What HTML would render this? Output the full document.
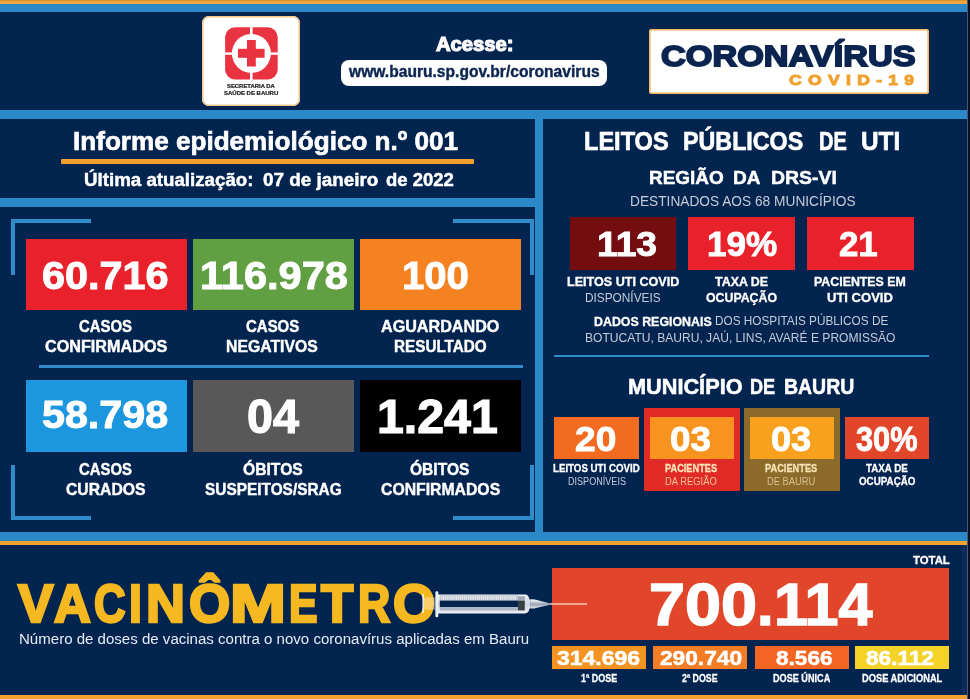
<!DOCTYPE html><html lang="pt-BR"><head><meta charset="utf-8"><title>Informe epidemiológico - Coronavírus Bauru</title>
<style>html,body{margin:0;padding:0}body{width:970px;height:699px;overflow:hidden;background:#03244f;position:relative;font-family:"Liberation Sans",sans-serif}
.r{position:absolute}.t{position:absolute;white-space:pre;line-height:1;transform-origin:0 0;margin:0}
#w{position:absolute;left:0;top:0;width:970px;height:699px;filter:blur(0.5px)}
</style></head><body><div id="w">
<div class="r" style="left:-6px;top:-6px;width:982px;height:10px;background:#f0a640;"></div>
<div class="r" style="left:-6px;top:-6px;width:982px;height:7px;background:#dc8e28;"></div>
<div class="r" style="left:-6px;top:4px;width:982px;height:8px;background:#2a89c6;"></div>
<div class="r" style="left:-6px;top:110.4px;width:982px;height:8.8px;background:#2a89c6;"></div>
<div class="r" style="left:-6px;top:197.5px;width:549px;height:9px;background:#2a89c6;"></div>
<div class="r" style="left:535px;top:110px;width:8px;height:430px;background:#2a89c6;"></div>
<div class="r" style="left:-6px;top:531.5px;width:982px;height:9.5px;background:#2a89c6;"></div>
<div class="r" style="left:-6px;top:541px;width:982px;height:4px;background:#f0a12e;"></div>
<div class="r" style="left:-6px;top:694.5px;width:982px;height:10.5px;background:#f0a12e;"></div>
<div class="r" style="left:961.5px;top:545px;width:5.5px;height:149.5px;background:#0b2a5a;"></div>
<div class="r" style="left:967px;top:-6px;width:9px;height:711px;background:#0a0f24;"></div>
<div class="r" style="left:966.6px;top:-6px;width:1px;height:711px;background:#4a5878;"></div>
<div class="r" style="left:11px;top:218.5px;width:80px;height:4px;background:#2f8bc9;"></div>
<div class="r" style="left:11px;top:218.5px;width:4px;height:56px;background:#2f8bc9;"></div>
<div class="r" style="left:453px;top:218.5px;width:80.5px;height:4px;background:#2f8bc9;"></div>
<div class="r" style="left:529.5px;top:218.5px;width:4px;height:56px;background:#2f8bc9;"></div>
<div class="r" style="left:11px;top:516px;width:80px;height:4px;background:#2f8bc9;"></div>
<div class="r" style="left:11px;top:464.5px;width:4px;height:55.5px;background:#2f8bc9;"></div>
<div class="r" style="left:453px;top:516px;width:80.5px;height:4px;background:#2f8bc9;"></div>
<div class="r" style="left:529.5px;top:464.5px;width:4px;height:55.5px;background:#2f8bc9;"></div>
<div class="r" style="left:38.5px;top:365px;width:484.5px;height:2.5px;background:#2f8bc9;"></div>
<div class="r" style="left:554.2px;top:354.8px;width:374.8px;height:2.7px;background:#2f8bc9;"></div>
<div class="r" style="left:26px;top:239.3px;width:160.5px;height:71.2px;background:#e8212b;"></div>
<div class="r" style="left:193px;top:239.3px;width:160.7px;height:71.2px;background:#609f42;"></div>
<div class="r" style="left:359.5px;top:239.3px;width:161px;height:71.2px;background:#f58220;"></div>
<div class="r" style="left:26px;top:379.5px;width:160.5px;height:72px;background:#1c97df;"></div>
<div class="r" style="left:193px;top:379.5px;width:160.7px;height:72px;background:#585858;"></div>
<div class="r" style="left:359.5px;top:379.5px;width:161px;height:72px;background:#000000;"></div>
<div class="r" style="left:570px;top:216.8px;width:106px;height:53.3px;background:#730d10;"></div>
<div class="r" style="left:688px;top:216.8px;width:107px;height:53.3px;background:#e9212b;"></div>
<div class="r" style="left:807px;top:216.8px;width:106.6px;height:53.3px;background:#e9212b;"></div>
<div class="r" style="left:554.2px;top:417.2px;width:84.5px;height:42px;background:#f26b21;"></div>
<div class="r" style="left:644.3px;top:407.7px;width:95.9px;height:83.7px;background:#e02a26;"></div>
<div class="r" style="left:649.5px;top:417.2px;width:84.2px;height:42px;background:#f7931e;"></div>
<div class="r" style="left:744.4px;top:407.7px;width:95.6px;height:83.7px;background:#8b6a2a;"></div>
<div class="r" style="left:749.5px;top:417.2px;width:84px;height:42px;background:#f8a11f;"></div>
<div class="r" style="left:844.8px;top:417.2px;width:84px;height:42px;background:#e1452a;"></div>
<div class="r" style="left:552px;top:568px;width:397.2px;height:71.6px;background:#e1452a;"></div>
<div class="r" style="left:552px;top:645.8px;width:93.8px;height:23.4px;background:#f39322;"></div>
<div class="r" style="left:653.1px;top:645.8px;width:94.4px;height:23.4px;background:#f27d25;"></div>
<div class="r" style="left:754.6px;top:645.8px;width:94.4px;height:23.4px;background:#f26522;"></div>
<div class="r" style="left:854.7px;top:645.8px;width:94.5px;height:23.4px;background:#f4d228;"></div>
<div class="r" style="left:202px;top:16.3px;width:97.5px;height:89.7px;background:#ffffff;border-radius:7px;box-shadow:inset 0 0 0 1.5px #f3c98a;"></div>
<div class="r" style="left:340.5px;top:59.6px;width:266.5px;height:26.4px;background:#ffffff;border-radius:8px;"></div>
<div class="r" style="left:648.7px;top:29.3px;width:280.5px;height:64.9px;background:#ffffff;border-radius:3px;box-shadow:inset 0 0 0 1.6px #f2b55c;"></div>
<div class="r" style="left:60.6px;top:159.2px;width:413.6px;height:4.6px;background:#f0a12e;border-radius:1px"></div>
<svg class="r" style="left:0;top:0" width="970" height="699" viewBox="0 0 970 699">
<defs>
<linearGradient id="hub" x1="0" y1="0" x2="0" y2="1"><stop offset="0" stop-color="#ffffff"/><stop offset="0.5" stop-color="#aeb7c4"/><stop offset="1" stop-color="#e6eaf0"/></linearGradient>
</defs>
<!-- logo icon -->
<g>
<rect x="225.1" y="27.3" width="52.6" height="52.2" rx="10" ry="10" fill="#ea3340"/>
<rect x="250" y="26" width="2.6" height="55" fill="#fff"/>
<rect x="224" y="52.4" width="55" height="2.4" fill="#fff"/>
<circle cx="251.4" cy="53.4" r="19.5" fill="#fff"/>
<rect x="238" y="48.8" width="26.6" height="9" fill="#ea3340"/>
<rect x="247" y="40" width="8.8" height="26.5" fill="#ea3340"/>
</g>
</svg>

<div class="t" style="font-size:4.94px;font-weight:bold;color:#222;-webkit-text-stroke:0.2px #222;left:226.62px;top:84.80px;transform:scaleX(1.1941);">SECRETARIA DA</div>
<div class="t" style="font-size:5.23px;font-weight:bold;color:#222;-webkit-text-stroke:0.2px #222;left:223.51px;top:90.90px;transform:scaleX(1.1469);">SAÚDE DE BAURU</div>
<div class="t" style="font-size:20.64px;font-weight:bold;color:#fff;-webkit-text-stroke:1.2px #fff;left:436.09px;top:34.40px;transform:scaleX(0.9803);">Acesse:</div>
<div class="t" style="font-size:16.12px;font-weight:bold;color:#0b2550;-webkit-text-stroke:0.41px #0b2550;left:349.17px;top:63.30px;transform:scaleX(0.9687);">www.bauru.sp.gov.br/coronavirus</div>
<div class="t" style="font-size:30.23px;font-weight:bold;color:#0b2550;-webkit-text-stroke:1.8px #0b2550;left:661.19px;top:41.00px;transform:scaleX(1.1341);">CORONAVÍRUS</div>
<div class="t" style="font-size:15.26px;font-weight:bold;color:#f0a12e;-webkit-text-stroke:1px #f0a12e;letter-spacing:5.493px;left:789.18px;top:72.20px;transform:scaleX(1.1500);">COVID-19</div>
<div class="t" style="font-size:26.63px;font-weight:bold;color:#fff;-webkit-text-stroke:0.68px #fff;left:72.95px;top:128.16px;transform:scaleX(0.9802);">Informe epidemiológico n.º 001</div>
<div class="t" style="font-size:18.49px;font-weight:bold;color:#fff;-webkit-text-stroke:0.48px #fff;left:84.23px;top:171.26px;transform:scaleX(1.0123);">Última atualização:</div>
<div class="t" style="font-size:18.49px;font-weight:bold;color:#fff;-webkit-text-stroke:0.48px #fff;left:262.74px;top:171.26px;transform:scaleX(1.0203);">07 de janeiro</div>
<div class="t" style="font-size:18.49px;font-weight:bold;color:#fff;-webkit-text-stroke:0.48px #fff;left:386.14px;top:171.26px;transform:scaleX(1.0011);">de 2022</div>
<div class="t" style="font-size:38.95px;font-weight:bold;color:#fff;-webkit-text-stroke:1px #fff;left:42.37px;top:256.80px;transform:scaleX(1.0630);">60.716</div>
<div class="t" style="font-size:38.95px;font-weight:bold;color:#fff;-webkit-text-stroke:1px #fff;left:199.60px;top:256.80px;transform:scaleX(1.0676);">116.978</div>
<div class="t" style="font-size:38.95px;font-weight:bold;color:#fff;-webkit-text-stroke:1px #fff;left:402.46px;top:256.80px;transform:scaleX(1.0298);">100</div>
<div class="t" style="font-size:17.24px;font-weight:bold;color:#fff;-webkit-text-stroke:0.44px #fff;left:78.89px;top:318.28px;transform:scaleX(0.8639);">CASOS</div>
<div class="t" style="font-size:17.37px;font-weight:bold;color:#fff;-webkit-text-stroke:0.45px #fff;left:44.51px;top:338.47px;transform:scaleX(0.9326);">CONFIRMADOS</div>
<div class="t" style="font-size:17.24px;font-weight:bold;color:#fff;-webkit-text-stroke:0.44px #fff;left:246.19px;top:318.28px;transform:scaleX(0.8688);">CASOS</div>
<div class="t" style="font-size:17.37px;font-weight:bold;color:#fff;-webkit-text-stroke:0.45px #fff;left:226.30px;top:338.47px;transform:scaleX(0.9086);">NEGATIVOS</div>
<div class="t" style="font-size:17.24px;font-weight:bold;color:#fff;-webkit-text-stroke:0.44px #fff;left:380.71px;top:318.28px;transform:scaleX(0.9366);">AGUARDANDO</div>
<div class="t" style="font-size:17.37px;font-weight:bold;color:#fff;-webkit-text-stroke:0.45px #fff;left:393.62px;top:338.47px;transform:scaleX(0.8795);">RESULTADO</div>
<div class="t" style="font-size:39.1px;font-weight:bold;color:#fff;-webkit-text-stroke:1px #fff;left:42.37px;top:395.40px;transform:scaleX(1.0548);">58.798</div>
<div class="t" style="font-size:47.65px;font-weight:bold;color:#fff;-webkit-text-stroke:1.22px #fff;left:246.62px;top:393.29px;transform:scaleX(0.9792);">04</div>
<div class="t" style="font-size:47.65px;font-weight:bold;color:#fff;-webkit-text-stroke:1.22px #fff;left:377.08px;top:393.29px;transform:scaleX(1.0133);">1.241</div>
<div class="t" style="font-size:17.09px;font-weight:bold;color:#fff;-webkit-text-stroke:0.44px #fff;left:78.89px;top:461.08px;transform:scaleX(0.8703);">CASOS</div>
<div class="t" style="font-size:17.24px;font-weight:bold;color:#fff;-webkit-text-stroke:0.44px #fff;left:66.00px;top:480.98px;transform:scaleX(0.9130);">CURADOS</div>
<div class="t" style="font-size:17.09px;font-weight:bold;color:#fff;-webkit-text-stroke:0.44px #fff;left:243.20px;top:461.08px;transform:scaleX(0.9170);">ÓBITOS</div>
<div class="t" style="font-size:17.24px;font-weight:bold;color:#fff;-webkit-text-stroke:0.44px #fff;left:204.50px;top:480.98px;transform:scaleX(0.8938);">SUSPEITOS/SRAG</div>
<div class="t" style="font-size:17.09px;font-weight:bold;color:#fff;-webkit-text-stroke:0.44px #fff;left:410.40px;top:461.08px;transform:scaleX(0.9109);">ÓBITOS</div>
<div class="t" style="font-size:17.24px;font-weight:bold;color:#fff;-webkit-text-stroke:0.44px #fff;left:380.50px;top:480.98px;transform:scaleX(0.9151);">CONFIRMADOS</div>
<div class="t" style="font-size:26.06px;font-weight:bold;color:#fff;-webkit-text-stroke:0.67px #fff;left:584.10px;top:127.66px;transform:scaleX(0.9043);">LEITOS</div>
<div class="t" style="font-size:26.06px;font-weight:bold;color:#fff;-webkit-text-stroke:0.67px #fff;left:682.81px;top:127.66px;transform:scaleX(0.8933);">PÚBLICOS</div>
<div class="t" style="font-size:26.06px;font-weight:bold;color:#fff;-webkit-text-stroke:0.67px #fff;left:818.79px;top:127.66px;transform:scaleX(0.7666);">DE</div>
<div class="t" style="font-size:26.06px;font-weight:bold;color:#fff;-webkit-text-stroke:0.67px #fff;left:860.58px;top:127.66px;transform:scaleX(0.9334);">UTI</div>
<div class="t" style="font-size:19.06px;font-weight:bold;color:#fff;-webkit-text-stroke:0.49px #fff;left:648.85px;top:168.06px;transform:scaleX(0.9945);">REGIÃO</div>
<div class="t" style="font-size:19.06px;font-weight:bold;color:#fff;-webkit-text-stroke:0.49px #fff;left:733.45px;top:168.06px;transform:scaleX(0.9983);">DA</div>
<div class="t" style="font-size:19.06px;font-weight:bold;color:#fff;-webkit-text-stroke:0.49px #fff;left:770.83px;top:168.06px;transform:scaleX(1.0196);">DRS-VI</div>
<div class="t" style="font-size:14.53px;font-weight:normal;color:#c5ccd9;left:630.26px;top:193.60px;transform:scaleX(0.9448);">DESTINADOS AOS 68 MUNICÍPIOS</div>
<div class="t" style="font-size:34.75px;font-weight:bold;color:#fff;-webkit-text-stroke:0.89px #fff;left:597.03px;top:227.16px;transform:scaleX(1.0709);">113</div>
<div class="t" style="font-size:34.75px;font-weight:bold;color:#fff;-webkit-text-stroke:0.89px #fff;left:706.83px;top:227.16px;transform:scaleX(1.0097);">19%</div>
<div class="t" style="font-size:34.75px;font-weight:bold;color:#fff;-webkit-text-stroke:0.89px #fff;left:839.14px;top:227.16px;transform:scaleX(1.0022);">21</div>
<div class="t" style="font-size:13.17px;font-weight:bold;color:#fff;-webkit-text-stroke:0.34px #fff;left:567.16px;top:275.23px;transform:scaleX(0.9558);">LEITOS UTI COVID</div>
<div class="t" style="font-size:12.94px;font-weight:normal;color:#c5ccd9;left:584.69px;top:292.40px;transform:scaleX(0.9141);">DISPONÍVEIS</div>
<div class="t" style="font-size:13.17px;font-weight:bold;color:#fff;-webkit-text-stroke:0.34px #fff;left:714.96px;top:275.23px;transform:scaleX(0.9436);">TAXA DE</div>
<div class="t" style="font-size:12.47px;font-weight:bold;color:#fff;-webkit-text-stroke:0.32px #fff;left:705.96px;top:292.24px;transform:scaleX(0.9885);">OCUPAÇÃO</div>
<div class="t" style="font-size:13.17px;font-weight:bold;color:#fff;-webkit-text-stroke:0.34px #fff;left:814.16px;top:275.23px;transform:scaleX(0.9400);">PACIENTES EM</div>
<div class="t" style="font-size:12.47px;font-weight:bold;color:#fff;-webkit-text-stroke:0.32px #fff;left:827.07px;top:292.24px;transform:scaleX(1.0449);">UTI COVID</div>
<div class="t" style="font-size:12.47px;font-weight:bold;color:#fff;-webkit-text-stroke:0.32px #fff;left:593.76px;top:315.94px;transform:scaleX(0.9935);">DADOS REGIONAIS</div>
<div class="t" style="font-size:12.94px;font-weight:normal;color:#c5ccd9;left:715.19px;top:315.30px;transform:scaleX(0.9107);">DOS HOSPITAIS PÚBLICOS DE</div>
<div class="t" style="font-size:12.94px;font-weight:normal;color:#c5ccd9;left:585.47px;top:332.30px;transform:scaleX(0.9326);">BOTUCATU, BAURU, JAÚ, LINS, AVARÉ E PROMISSÃO</div>
<div class="t" style="font-size:21.72px;font-weight:bold;color:#fff;-webkit-text-stroke:0.56px #fff;left:628.28px;top:376.02px;transform:scaleX(0.9992);">MUNICÍPIO</div>
<div class="t" style="font-size:21.72px;font-weight:bold;color:#fff;-webkit-text-stroke:0.56px #fff;left:749.60px;top:376.02px;transform:scaleX(0.8343);">DE</div>
<div class="t" style="font-size:21.72px;font-weight:bold;color:#fff;-webkit-text-stroke:0.56px #fff;left:784.35px;top:376.02px;transform:scaleX(0.8965);">BAURU</div>
<div class="t" style="font-size:35.31px;font-weight:bold;color:#fff;-webkit-text-stroke:0.91px #fff;left:575.43px;top:420.75px;transform:scaleX(1.0508);">20</div>
<div class="t" style="font-size:35.31px;font-weight:bold;color:#fff;-webkit-text-stroke:0.91px #fff;left:669.73px;top:420.75px;transform:scaleX(1.0431);">03</div>
<div class="t" style="font-size:35.31px;font-weight:bold;color:#fff;-webkit-text-stroke:0.91px #fff;left:770.94px;top:420.75px;transform:scaleX(1.0249);">03</div>
<div class="t" style="font-size:35.31px;font-weight:bold;color:#fff;-webkit-text-stroke:0.91px #fff;left:856.30px;top:420.75px;transform:scaleX(0.8697);">30%</div>
<div class="t" style="font-size:10.78px;font-weight:bold;color:#fff;-webkit-text-stroke:0.28px #fff;left:553.03px;top:462.86px;transform:scaleX(0.9016);">LEITOS UTI COVID</div>
<div class="t" style="font-size:10.61px;font-weight:normal;color:#c5ccd9;left:567.60px;top:476.00px;transform:scaleX(0.8549);">DISPONÍVEIS</div>
<div class="t" style="font-size:10.78px;font-weight:bold;color:#fde3b5;-webkit-text-stroke:0.28px #fde3b5;left:665.12px;top:462.86px;transform:scaleX(0.8570);">PACIENTES</div>
<div class="t" style="font-size:10.61px;font-weight:normal;color:#f9bf98;left:665.00px;top:476.00px;transform:scaleX(0.8859);">DA REGIÃO</div>
<div class="t" style="font-size:10.78px;font-weight:bold;color:#f6e3b4;-webkit-text-stroke:0.28px #f6e3b4;left:765.12px;top:462.86px;transform:scaleX(0.8586);">PACIENTES</div>
<div class="t" style="font-size:10.61px;font-weight:normal;color:#d8c28e;left:767.00px;top:476.00px;transform:scaleX(0.8807);">DE BAURU</div>
<div class="t" style="font-size:10.78px;font-weight:bold;color:#fff;-webkit-text-stroke:0.28px #fff;left:865.83px;top:462.86px;transform:scaleX(0.9087);">TAXA DE</div>
<div class="t" style="font-size:10.23px;font-weight:bold;color:#fff;-webkit-text-stroke:0.26px #fff;left:858.62px;top:476.87px;transform:scaleX(0.9584);">OCUPAÇÃO</div>
<div class="t" style="font-size:14.68px;font-weight:normal;color:#e8ebf2;left:18.57px;top:631.80px;transform:scaleX(1.0255);">Número de doses de vacinas contra o novo coronavírus aplicadas em Bauru</div>
<div class="t" style="font-size:11.48px;font-weight:bold;color:#fff;-webkit-text-stroke:0.3px #fff;left:912.85px;top:555.45px;transform:scaleX(0.9905);">TOTAL</div>
<div class="t" style="font-size:59.69px;font-weight:bold;color:#fff;-webkit-text-stroke:1.53px #fff;left:648.56px;top:575.24px;transform:scaleX(1.0854);">700</div>
<div class="t" style="font-size:59.69px;font-weight:bold;color:#fff;-webkit-text-stroke:1.53px #fff;left:757.27px;top:575.24px;transform:scaleX(0.9972);">.</div>
<div class="t" style="font-size:59.69px;font-weight:bold;color:#fff;-webkit-text-stroke:1.53px #fff;left:773.82px;top:575.24px;transform:scaleX(1.0219);">114</div>
<div class="t" style="font-size:20.32px;font-weight:bold;color:#fff;-webkit-text-stroke:0.52px #fff;left:556.69px;top:647.84px;transform:scaleX(1.1311);">314.696</div>
<div class="t" style="font-size:20.32px;font-weight:bold;color:#fff;-webkit-text-stroke:0.52px #fff;left:659.59px;top:647.84px;transform:scaleX(1.1175);">290.740</div>
<div class="t" style="font-size:20.32px;font-weight:bold;color:#fff;-webkit-text-stroke:0.52px #fff;left:775.59px;top:647.84px;transform:scaleX(1.1125);">8.566</div>
<div class="t" style="font-size:20.32px;font-weight:bold;color:#fff;-webkit-text-stroke:0.52px #fff;left:865.89px;top:647.84px;transform:scaleX(1.1138);">86.112</div>
<div class="t" style="font-size:10.36px;font-weight:bold;color:#fff;-webkit-text-stroke:0.27px #fff;left:580.62px;top:674.07px;transform:scaleX(0.8627);">1ª DOSE</div>
<div class="t" style="font-size:10.36px;font-weight:bold;color:#fff;-webkit-text-stroke:0.27px #fff;left:682.21px;top:674.07px;transform:scaleX(0.8509);">2ª DOSE</div>
<div class="t" style="font-size:10.36px;font-weight:bold;color:#fff;-webkit-text-stroke:0.27px #fff;left:772.62px;top:674.07px;transform:scaleX(0.8796);">DOSE ÚNICA</div>
<div class="t" style="font-size:10.36px;font-weight:bold;color:#fff;-webkit-text-stroke:0.27px #fff;left:861.62px;top:674.07px;transform:scaleX(0.8983);">DOSE ADICIONAL</div>
<div class="t" style="left:0;top:576.90px;font-size:54.36px;font-weight:bold;color:#f5b820;-webkit-text-stroke:2.6px #f5b820;"><span style="position:absolute;left:18.07px;top:0;transform-origin:0 0;transform:scaleX(0.9767)">V</span><span style="position:absolute;left:54.18px;top:0;transform-origin:0 0;transform:scaleX(0.9369)">A</span><span style="position:absolute;left:93.54px;top:0;transform-origin:0 0;transform:scaleX(0.8031)">C</span><span style="position:absolute;left:129.05px;top:0;transform-origin:0 0;transform:scaleX(0.8534)">I</span><span style="position:absolute;left:146.11px;top:0;transform-origin:0 0;transform:scaleX(0.9916)">N</span><span style="position:absolute;left:188.62px;top:0;transform-origin:0 0;transform:scaleX(0.9754)">Ô</span><span style="position:absolute;left:230.30px;top:0;transform-origin:0 0;transform:scaleX(1.2356)">M</span><span style="position:absolute;left:288.66px;top:0;transform-origin:0 0;transform:scaleX(0.7861)">E</span><span style="position:absolute;left:321.36px;top:0;transform-origin:0 0;transform:scaleX(0.9719)">T</span><span style="position:absolute;left:358.40px;top:0;transform-origin:0 0;transform:scaleX(0.8212)">R</span><span style="position:absolute;left:393.00px;top:0;transform-origin:0 0;transform:scaleX(0.9951)">O</span></div>
<svg class="r" style="left:0;top:0" width="970" height="699" viewBox="0 0 970 699">
<defs>
<linearGradient id="hub2" x1="0" y1="0" x2="0" y2="1"><stop offset="0" stop-color="#ffffff"/><stop offset="0.55" stop-color="#9aa5b5"/><stop offset="1" stop-color="#e6eaf0"/></linearGradient>
<linearGradient id="brl" x1="0" y1="0" x2="0" y2="1"><stop offset="0" stop-color="#f3f5f9"/><stop offset="0.5" stop-color="#cdd4df"/><stop offset="1" stop-color="#eef1f6"/></linearGradient>
</defs>
<g>
<rect x="422.4" y="593.8" width="1.5" height="19.6" rx="0.7" fill="#fff" opacity="0.9"/>
<rect x="423.9" y="597.4" width="11.8" height="12.4" fill="#fff" opacity="0.33"/>
<rect x="435.4" y="591.2" width="2.9" height="26" rx="1.2" fill="#eef1f6"/>
<path d="M438 594.4 H525 Q528.6 594.6 529.4 599 L530.4 600 V608 L529.4 609 Q528.6 613.2 525 613.4 H438 Z" fill="url(#brl)"/>
<rect x="439.8" y="595.4" width="78.2" height="5" fill="#b9c1ce"/>
<g stroke="#f7f9fc" stroke-width="0.8">
<line x1="441.6" y1="595.8" x2="441.6" y2="599.8"/><line x1="443.5" y1="595.8" x2="443.5" y2="599.8"/><line x1="445.4" y1="595.8" x2="445.4" y2="599.8"/><line x1="447.3" y1="595.8" x2="447.3" y2="599.8"/><line x1="449.2" y1="595.8" x2="449.2" y2="599.8"/><line x1="451.1" y1="595.8" x2="451.1" y2="599.8"/><line x1="453.0" y1="595.8" x2="453.0" y2="599.8"/><line x1="454.9" y1="595.8" x2="454.9" y2="599.8"/><line x1="456.8" y1="595.8" x2="456.8" y2="599.8"/><line x1="458.7" y1="595.8" x2="458.7" y2="599.8"/><line x1="460.6" y1="595.8" x2="460.6" y2="599.8"/><line x1="462.5" y1="595.8" x2="462.5" y2="599.8"/><line x1="464.4" y1="595.8" x2="464.4" y2="599.8"/><line x1="466.3" y1="595.8" x2="466.3" y2="599.8"/><line x1="468.2" y1="595.8" x2="468.2" y2="599.8"/><line x1="470.1" y1="595.8" x2="470.1" y2="599.8"/><line x1="472.0" y1="595.8" x2="472.0" y2="599.8"/><line x1="473.9" y1="595.8" x2="473.9" y2="599.8"/><line x1="475.8" y1="595.8" x2="475.8" y2="599.8"/><line x1="477.7" y1="595.8" x2="477.7" y2="599.8"/><line x1="479.6" y1="595.8" x2="479.6" y2="599.8"/><line x1="481.5" y1="595.8" x2="481.5" y2="599.8"/><line x1="483.4" y1="595.8" x2="483.4" y2="599.8"/><line x1="485.3" y1="595.8" x2="485.3" y2="599.8"/><line x1="487.2" y1="595.8" x2="487.2" y2="599.8"/><line x1="489.1" y1="595.8" x2="489.1" y2="599.8"/><line x1="491.0" y1="595.8" x2="491.0" y2="599.8"/><line x1="492.9" y1="595.8" x2="492.9" y2="599.8"/><line x1="494.8" y1="595.8" x2="494.8" y2="599.8"/><line x1="496.7" y1="595.8" x2="496.7" y2="599.8"/><line x1="498.6" y1="595.8" x2="498.6" y2="599.8"/><line x1="500.5" y1="595.8" x2="500.5" y2="599.8"/><line x1="502.4" y1="595.8" x2="502.4" y2="599.8"/><line x1="504.3" y1="595.8" x2="504.3" y2="599.8"/><line x1="506.2" y1="595.8" x2="506.2" y2="599.8"/><line x1="508.1" y1="595.8" x2="508.1" y2="599.8"/><line x1="510.0" y1="595.8" x2="510.0" y2="599.8"/><line x1="511.9" y1="595.8" x2="511.9" y2="599.8"/><line x1="513.8" y1="595.8" x2="513.8" y2="599.8"/><line x1="515.7" y1="595.8" x2="515.7" y2="599.8"/>
</g>
<rect x="439.8" y="600.6" width="78.2" height="6.6" fill="#03244f"/>
<rect x="439.8" y="607.2" width="78.2" height="3.4" fill="#aeb8c7"/>
<rect x="518" y="600.4" width="6.8" height="10" fill="#3a3d42"/>
<rect x="518" y="596.2" width="6.8" height="4.2" fill="#9fa9b8"/>
<path d="M530.2 599.6 Q533 598.8 536 599.8 L550.3 603.4 V604.8 L536 608 Q533 609 530.2 608.2 Z" fill="url(#hub2)"/>
<rect x="550" y="603.1" width="37" height="1.8" fill="#f6b4a4" opacity="0.95"/>
</g>
</svg>

</div></body></html>
